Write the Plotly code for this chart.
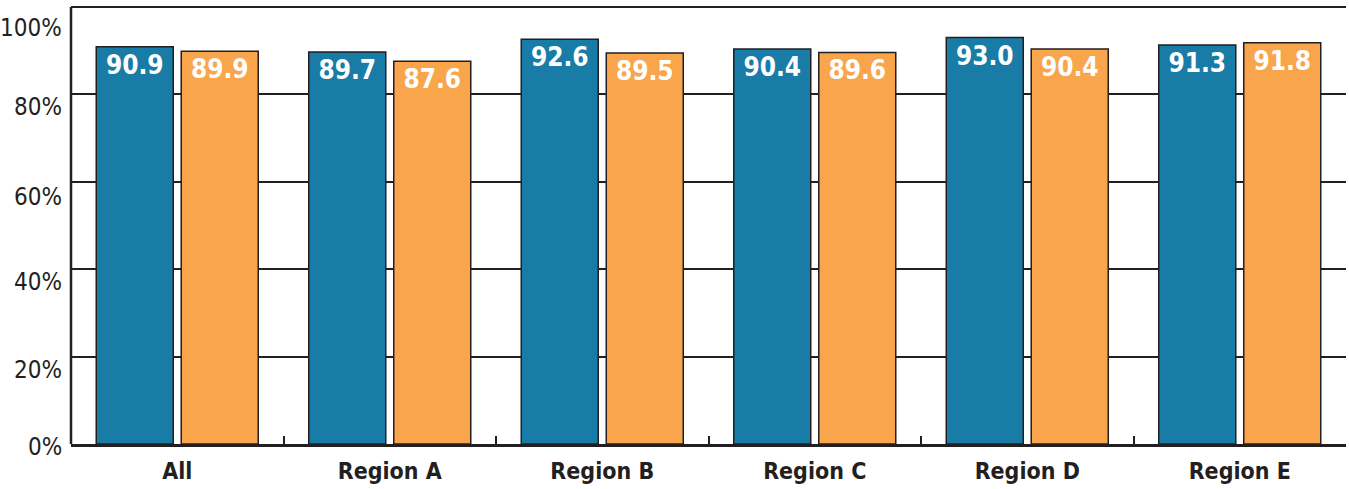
import plotly.graph_objects as go

categories = ["All", "Region A", "Region B", "Region C", "Region D", "Region E"]
series_blue = [90.9, 89.7, 92.6, 90.4, 93.0, 91.3]
series_orange = [89.9, 87.6, 89.5, 89.6, 90.4, 91.8]
y_tick_vals = [0, 20, 40, 60, 80, 100]
y_tick_text = ["0%", "20%", "40%", "60%", "80%", "100%"]
# labels sit just below their gridlines (pixels)
y_label_drop = [3, 13, 13, 15, 13, 21]

INK = "#231f20"
FONT = "DejaVu Sans Condensed, Liberation Sans Narrow, Liberation Sans, sans-serif"

fig = go.Figure()
for vals, color in [(series_blue, "#187ca6"), (series_orange, "#f8a54b")]:
    fig.add_trace(go.Bar(
        x=categories, y=vals,
        marker=dict(color=color, line=dict(color=INK, width=1.5)),
        text=[f"{v:.1f}" for v in vals],
        textposition="inside", insidetextanchor="end",
        textangle=0,
        textfont=dict(family=FONT, size=26, color="white", weight="bold"),
        cliponaxis=False,
    ))

for val, txt, drop in zip(y_tick_vals, y_tick_text, y_label_drop):
    fig.add_annotation(
        x=0, xref="paper", xanchor="right", xshift=-7,
        y=val, yref="y", yanchor="middle", yshift=-drop,
        text=txt, showarrow=False,
        font=dict(family=FONT, size=24, color=INK),
    )

# left axis line, running from 0% up to the 100% gridline only
fig.add_shape(
    type="line", xref="paper", yref="y",
    x0=0, x1=0, y0=0, y1=y_tick_vals[-1],
    line=dict(color=INK, width=2.5), layer="above",
)

fig.update_layout(
    width=1349, height=489,
    margin=dict(l=71, r=3, t=0, b=45),
    paper_bgcolor="white", plot_bgcolor="white",
    showlegend=False,
    barmode="group", bargap=0.2, bargroupgap=0.094,
    xaxis=dict(
        type="category", tickson="boundaries",
        ticks="inside", ticklen=8, tickwidth=2, tickcolor=INK,
        showline=True, linecolor=INK, linewidth=3,
        showgrid=False, ticklabelstandoff=4,
        tickfont=dict(family=FONT, size=23, color=INK, weight="bold"),
    ),
    yaxis=dict(
        range=[0, 101.6], tickvals=y_tick_vals, showticklabels=False,
        showgrid=True, gridcolor=INK, gridwidth=2,
        showline=False, zeroline=False, ticks="",
    ),
)

fig.write_html("out.html")
